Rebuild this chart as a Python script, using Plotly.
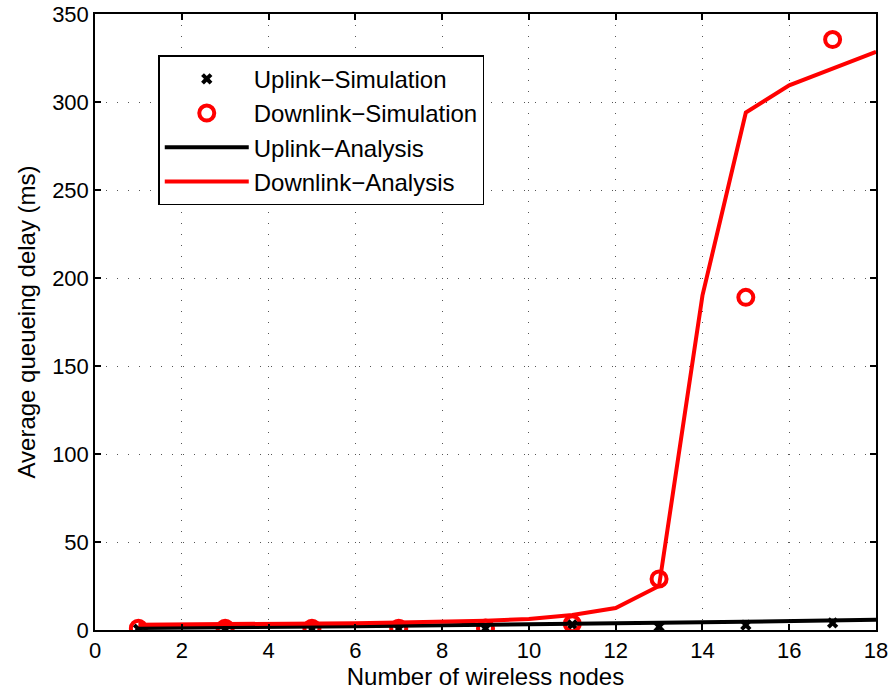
import plotly.graph_objects as go

nodes_sim = [1, 3, 5, 7, 9, 11, 13, 15, 17]
uplink_sim = [0.5, 0.5, 0.5, 0.6, 0.8, 3.0, 1.8, 2.8, 4.0]
downlink_sim = [1.0, 1.0, 1.0, 1.0, 1.2, 3.5, 29.0, 189.0, 335.5]

nodes_ana = list(range(1, 19))
uplink_ana = [1.2, 1.3, 1.5, 1.7, 1.9, 2.1, 2.4, 2.6, 2.9, 3.2, 3.5, 3.8, 4.1, 4.4, 4.7, 5.0, 5.4, 5.8]
downlink_ana = [3.0, 3.1, 3.2, 3.4, 3.6, 3.9, 4.2, 4.7, 5.3, 6.3, 8.5, 12.5, 25.0, 190.0, 294.0, 309.5, 319.0, 328.5]

x_ticks = list(range(0, 19, 2))
y_ticks = list(range(0, 351, 50))

font = "Liberation Sans, Arial, Helvetica, sans-serif"

fig = go.Figure()
fig.add_trace(go.Scatter(x=nodes_sim, y=uplink_sim, mode="markers", name="Uplink\u2212Simulation",
                         marker=dict(symbol="x", size=10, color="black")))
fig.add_trace(go.Scatter(x=nodes_sim, y=downlink_sim, mode="markers", name="Downlink\u2212Simulation",
                         marker=dict(symbol="circle-open", size=15, color="red", line=dict(width=4, color="red"))))
fig.add_trace(go.Scatter(x=nodes_ana, y=uplink_ana, mode="lines", name="Uplink\u2212Analysis",
                         line=dict(color="black", width=4)))
fig.add_trace(go.Scatter(x=nodes_ana, y=downlink_ana, mode="lines", name="Downlink\u2212Analysis",
                         line=dict(color="red", width=4)))

axis_common = dict(showline=True, linecolor="black", linewidth=1.5, mirror="ticks",
                   ticks="inside", ticklen=6, tickcolor="black", tickwidth=1.5,
                   showgrid=True, gridcolor="#555555", gridwidth=1, griddash="1px,10px",
                   zeroline=False, automargin=False,
                   tickfont=dict(family=font, size=22, color="black"))

fig.update_xaxes(range=[0, 18], tickvals=x_ticks, title=dict(text="Number of wireless nodes",
                 font=dict(family=font, size=24, color="black"), standoff=5), **axis_common)
fig.update_yaxes(range=[0, 350], tickvals=y_ticks, title=dict(text="Average queueing delay (ms)",
                 font=dict(family=font, size=24, color="black"), standoff=10), **axis_common)

fig.update_layout(
    width=892, height=694,
    margin=dict(l=95, r=16, t=14, b=64),
    plot_bgcolor="white", paper_bgcolor="white",
    font=dict(family=font, size=22, color="black"),
    legend=dict(x=0.081, y=0.933, xanchor="left", yanchor="top",
                bordercolor="black", borderwidth=1.5, bgcolor="white",
                font=dict(family=font, size=24, color="black"),
                itemwidth=84, tracegroupgap=0),
)

fig.write_html("out.html")
